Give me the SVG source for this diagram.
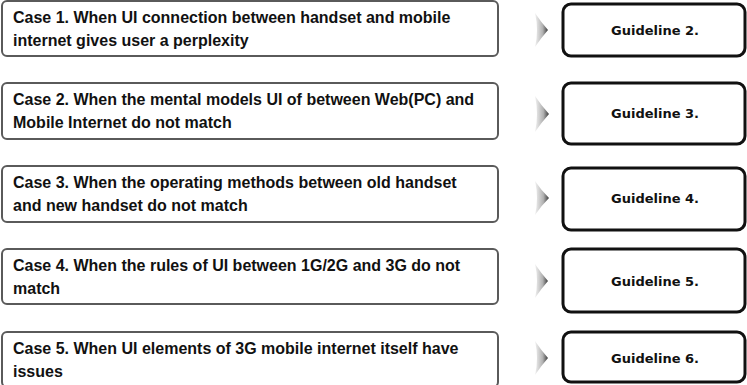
<svg xmlns="http://www.w3.org/2000/svg" width="747" height="385" viewBox="0 0 747 385">
  <defs>
    <linearGradient id="chevShade" x1="0" y1="0" x2="1" y2="0">
      <stop offset="0" stop-color="#f2f2f2"/>
      <stop offset="0.6" stop-color="#b0b0b0"/>
      <stop offset="1" stop-color="#3a3a3a"/>
    </linearGradient>
  </defs>
  <style>
    .case rect { fill: #ffffff; stroke: #5a5a5a; stroke-width: 2; }
    .case text { font-family: "Liberation Sans", Arial, sans-serif; font-weight: bold; font-size: 16px; fill: #111111; }
    .guide rect { fill: #ffffff; stroke: #111111; stroke-width: 3; }
    .guide text { font-family: "DejaVu Sans", Verdana, sans-serif; font-weight: bold; font-size: 13px; fill: #111111; text-anchor: middle; }
    .chev { fill: url(#chevShade); }
  </style>
  <rect width="747" height="385" fill="#ffffff"/>

  <g id="case1" class="case">
    <rect x="2" y="1" width="496" height="55" rx="5"/>
    <text x="13" y="23">Case 1. When UI connection between handset and mobile</text>
    <text x="13" y="46">internet gives user a perplexity</text>
  </g>
  <g id="case2" class="case">
    <rect x="2" y="83" width="496" height="56" rx="5"/>
    <text x="13" y="105">Case 2. When the mental models UI of between Web(PC) and</text>
    <text x="13" y="128">Mobile Internet do not match</text>
  </g>
  <g id="case3" class="case">
    <rect x="2" y="166" width="496" height="56" rx="5"/>
    <text x="13" y="188">Case 3. When the operating methods between old handset</text>
    <text x="13" y="211">and new handset do not match</text>
  </g>
  <g id="case4" class="case">
    <rect x="2" y="249" width="496" height="55" rx="5"/>
    <text x="13" y="271">Case 4. When the rules of UI between 1G/2G and 3G do not</text>
    <text x="13" y="294">match</text>
  </g>
  <g id="case5" class="case">
    <rect x="2" y="332" width="496" height="55" rx="5"/>
    <text x="13" y="354">Case 5. When UI elements of 3G mobile internet itself have</text>
    <text x="13" y="377">issues</text>
  </g>

  <g id="guide2" class="guide">
    <rect x="563" y="4" width="182" height="52" rx="8"/>
    <text x="655" y="35">Guideline 2.</text>
  </g>
  <g id="guide3" class="guide">
    <rect x="563" y="83" width="182" height="61" rx="8"/>
    <text x="655" y="118">Guideline 3.</text>
  </g>
  <g id="guide4" class="guide">
    <rect x="563" y="168" width="182" height="62" rx="8"/>
    <text x="655" y="203">Guideline 4.</text>
  </g>
  <g id="guide5" class="guide">
    <rect x="563" y="249" width="182" height="63" rx="8"/>
    <text x="655" y="286">Guideline 5.</text>
  </g>
  <g id="guide6" class="guide">
    <rect x="563" y="332" width="182" height="50" rx="8"/>
    <text x="655" y="363">Guideline 6.</text>
  </g>

  <g id="connectors">
    <path class="chev" d="M535,13 Q541,22 548,30 Q541,38 535,47 Q539,30 535,13 Z"/>
    <path class="chev" d="M535,96 Q541,105 549,114 Q541,123 535,132 Q539,114 535,96 Z"/>
    <path class="chev" d="M535,181 Q541,190 549,198 Q541,206 535,215 Q539,198 535,181 Z"/>
    <path class="chev" d="M535,264 Q541,273 548,281 Q541,289 535,298 Q539,281 535,264 Z"/>
    <path class="chev" d="M535,341 Q541,350 548,358 Q541,366 535,375 Q539,358 535,341 Z"/>
  </g>
</svg>
